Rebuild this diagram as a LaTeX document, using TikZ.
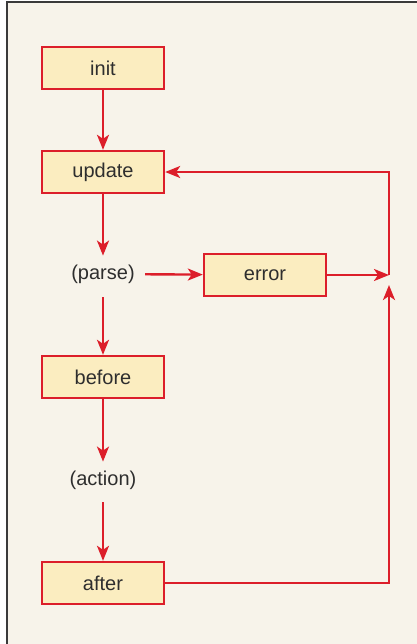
\documentclass[tikz,border=0pt]{standalone}
\usepackage{fontspec}
\setmainfont{Liberation Sans}
\usepackage{xcolor}
\usetikzlibrary{arrows.meta,positioning}
\definecolor{loopred}{HTML}{DC1E2A}
\definecolor{boxfill}{HTML}{FBEDC0}
\definecolor{paper}{HTML}{F7F3EA}
\definecolor{framegray}{HTML}{3A3A3A}
\definecolor{inkgray}{HTML}{2E2E2E}

\begin{document}
\begin{tikzpicture}[
  x=0.5pt,y=-0.5pt,
  >={Stealth[length=7.5pt,width=6pt,inset=2pt]},
  stepbox/.style={draw=loopred,fill=boxfill,line width=1.2pt,
    minimum width=61pt,minimum height=21pt,inner sep=0pt},
  phase/.style={minimum height=18pt,inner xsep=5pt,inner ysep=0pt},
  link/.style={loopred,line width=1.2pt},
  every node/.style={font=\fontsize{10}{12}\selectfont,text=inkgray}
]
  \useasboundingbox (0,0) rectangle (417,644);
  \fill[paper] (7,2) rectangle (417,644);
  \draw[framegray,line width=0.8pt] (7,644) -- (7,2) -- (417,2);
  % main column
  \node[stepbox] (init) at (103,68) {init};
  \node[stepbox] (update) at (103,172) {update};
  \node[phase] (parse) at (103,274) {(parse)};
  \node[stepbox] (error) at (265,275) {error};
  \node[stepbox] (before) at (103,377) {before};
  \node[phase] (action) at (103,480) {(action)};
  \node[stepbox] (after) at (103,583) {after};
  \coordinate (join) at (389,275);
  \draw[link,->] (init) -- (update);
  \draw[link,->] (update) -- (parse);
  \draw[link,->] (parse) -- (error);
  \draw[link,->,shorten <=2.5pt] (parse) -- (before);
  \draw[link,->] (before) -- (action);
  \draw[link,->,shorten <=2pt] (action) -- (after);
  % return path
  \draw[link,->] (error) -- (join);
  \draw[link,->,shorten >=5pt] (after.east) -| (join);
  \draw[link,->] (join) |- (update.east);
\end{tikzpicture}
\end{document}
